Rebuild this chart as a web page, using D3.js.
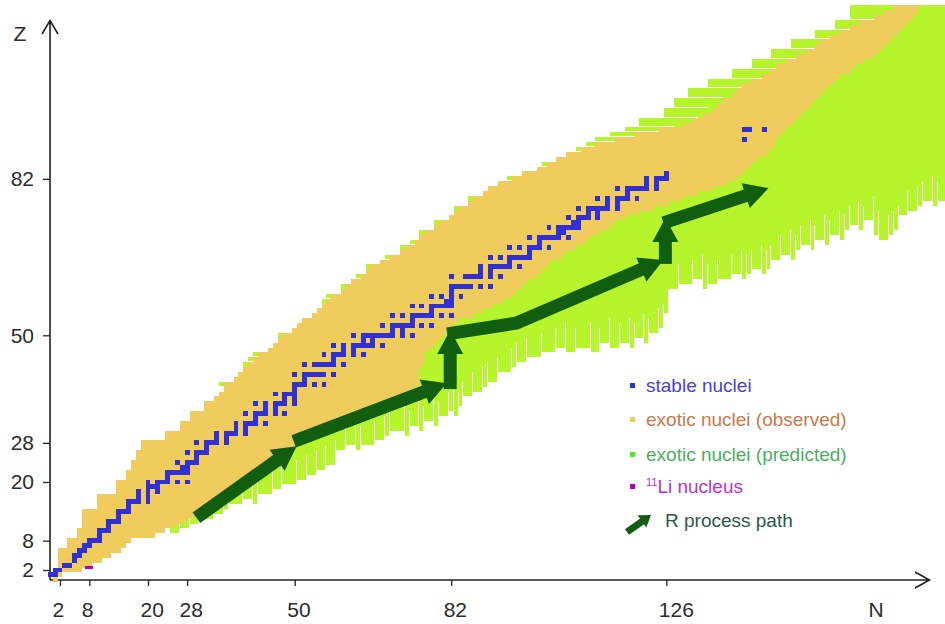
<!DOCTYPE html>
<html>
<head>
<meta charset="utf-8">
<title>Chart of nuclides</title>
<script src="https://cdn.jsdelivr.net/npm/d3@7"></script>
<style>
  html, body { margin: 0; padding: 0; background: #fff; }
  svg { display: block; }
  text { font-family: "Liberation Sans", Arial, Helvetica, sans-serif; }
</style>
</head>
<body>
<svg id="chart" width="945" height="624"></svg>
<script>
// ---------------- data ----------------
const nTicks = [2, 8, 20, 28, 50, 82, 126];
const zTicks = [2, 8, 20, 28, 50, 82];

// Indexed by proton number Z = 0..117
// lightest / heaviest observed neutron number
const observedNMin = [
  1,
  0, 1, 2, 2, 2, 2, 4, 4, 6, 6,
  7, 7, 7, 7, 10, 10, 10, 14, 14, 14,
  16, 16, 17, 17, 18, 18, 19, 19, 24, 24,
  27, 27, 29, 29, 32, 32, 34, 35, 36, 36,
  38, 39, 40, 41, 42, 43, 45, 46, 47, 48,
  50, 51, 52, 54, 55, 56, 57, 58, 60, 61,
  62, 64, 65, 66, 68, 70, 72, 73, 75, 76,
  77, 79, 80, 82, 83, 84, 86, 87, 89, 90,
  92, 95, 97, 100, 102, 104, 106, 109, 112, 116,
  120, 125, 130, 132, 134, 136, 137, 138, 140, 141,
  142, 144, 146, 148, 149, 151, 153, 155, 157, 158,
  160, 162, 164, 166, 169, 171, 173
];
const observedNMax = [
  1,
  2, 6, 8, 10, 12, 14, 15, 16, 21, 23,
  25, 27, 29, 30, 32, 33, 35, 36, 38, 39,
  41, 42, 44, 45, 47, 48, 50, 51, 52, 54,
  55, 57, 59, 61, 64, 67, 70, 72, 74, 75,
  75, 75, 75, 76, 76, 76, 77, 78, 79, 80,
  81, 82, 83, 86, 88, 90, 92, 94, 95, 96,
  97, 99, 100, 101, 102, 104, 105, 107, 109, 110,
  112, 114, 115, 117, 120, 123, 126, 129, 132, 135,
  138, 140, 141, 142, 143, 144, 146, 147, 148, 148,
  149, 150, 151, 152, 153, 154, 155, 156, 157, 158,
  159, 160, 161, 163, 164, 166, 168, 169, 170, 171,
  172, 173, 174, 175, 176, 177, 177
];
// lightest predicted neutron number (proton drip side)
const predictedNMin = [
  1,
  0, 1, 2, 2, 2, 2, 4, 4, 6, 6,
  7, 7, 7, 7, 10, 10, 10, 14, 14, 14,
  16, 16, 17, 17, 18, 18, 19, 19, 24, 24,
  27, 27, 29, 29, 32, 32, 34, 35, 36, 35,
  38, 39, 40, 40, 41, 42, 45, 46, 47, 47,
  50, 51, 52, 54, 55, 56, 56, 57, 60, 60,
  62, 63, 65, 65, 68, 69, 72, 72, 74, 76,
  76, 79, 79, 82, 83, 83, 86, 86, 89, 90,
  92, 94, 97, 100, 101, 104, 106, 108, 110, 112,
  115, 118, 121, 121, 126, 126, 128, 128, 131, 131,
  135, 135, 140, 140, 144, 144, 148, 148, 152, 152,
  157, 157, 161, 161, 164, 164, 164
];

// Indexed by neutron number N = 0..183: lowest predicted Z (neutron drip side)
const predictedZMin = [
  1, 0, 1, 2, 2, 2, 2, 3, 3, 4,
  4, 5, 5, 6, 6, 7, 8, 9, 9, 9,
  9, 9, 10, 10, 11, 10, 10, 11, 11, 12,
  12, 13, 13, 13, 14, 14, 15, 16, 16, 16,
  17, 17, 16, 18, 18, 18, 19, 19, 20, 20,
  20, 21, 21, 22, 22, 23, 23, 24, 24, 27,
  27, 28, 28, 27, 28, 28, 28, 29, 29, 30,
  31, 31, 31, 30, 32, 32, 31, 33, 33, 32,
  34, 34, 35, 34, 36, 38, 38, 39, 39, 40,
  41, 41, 43, 43, 43, 44, 45, 45, 46, 46,
  46, 47, 47, 47, 48, 48, 47, 47, 48, 48,
  48, 47, 47, 49, 49, 48, 48, 49, 49, 48,
  50, 50, 49, 51, 51, 52, 55, 60, 60, 61,
  61, 61, 62, 62, 60, 61, 61, 62, 62, 62,
  63, 63, 62, 63, 64, 64, 63, 64, 66, 66,
  67, 67, 66, 68, 69, 69, 68, 70, 70, 69,
  71, 71, 70, 72, 73, 73, 72, 74, 74, 71,
  70, 70, 71, 72, 75, 75, 76, 76, 77, 78,
  78, 77, 78, 78
];

// stable (and primordial) nuclei: [Z, [N, ...]]
const stableNuclei = [
  [1, [0, 1]], [2, [1, 2]], [3, [3, 4]], [4, [5]], [5, [5, 6]], [6, [6, 7]], [7, [7, 8]],
  [8, [8, 9, 10]], [9, [10]], [10, [10, 11, 12]], [11, [12]], [12, [12, 13, 14]], [13, [14]],
  [14, [14, 15, 16]], [15, [16]], [16, [16, 17, 18, 20]], [17, [18, 20]], [18, [18, 20, 22]],
  [19, [20, 21, 22]], [20, [20, 22, 23, 24, 26, 28]], [21, [24]], [22, [24, 25, 26, 27, 28]],
  [23, [27, 28]], [24, [26, 28, 29, 30]], [25, [30]], [26, [28, 30, 31, 32]], [27, [32]],
  [28, [30, 32, 33, 34, 36]], [29, [34, 36]], [30, [34, 36, 37, 38, 40]], [31, [38, 40]],
  [32, [38, 40, 41, 42, 44]], [33, [42]], [34, [40, 42, 43, 44, 46, 48]], [35, [44, 46]],
  [36, [42, 44, 46, 47, 48, 50]], [37, [48, 50]], [38, [46, 48, 49, 50]], [39, [50]],
  [40, [50, 51, 52, 54, 56]], [41, [52]], [42, [50, 52, 53, 54, 55, 56, 58]],
  [44, [52, 54, 55, 56, 57, 58, 60]], [45, [58]], [46, [56, 58, 59, 60, 62, 64]], [47, [60, 62]],
  [48, [58, 60, 62, 63, 64, 65, 66, 68]], [49, [64, 66]], [50, [62, 64, 65, 66, 67, 68, 69, 70, 72, 74]],
  [51, [70, 72]], [52, [68, 70, 71, 72, 73, 74, 76, 78]], [53, [74]],
  [54, [70, 72, 74, 75, 76, 77, 78, 80, 82]], [55, [78]], [56, [74, 76, 78, 79, 80, 81, 82]],
  [57, [81, 82]], [58, [78, 80, 82, 84]], [59, [82]], [60, [82, 83, 84, 85, 86, 88, 90]],
  [62, [82, 85, 86, 87, 88, 90, 92]], [63, [88, 90]], [64, [88, 90, 91, 92, 93, 94, 96]], [65, [94]],
  [66, [90, 92, 94, 95, 96, 97, 98]], [67, [98]], [68, [94, 96, 98, 99, 100, 102]], [69, [100]],
  [70, [98, 100, 101, 102, 103, 104, 106]], [71, [104, 105]], [72, [102, 104, 105, 106, 107, 108]],
  [73, [107, 108]], [74, [106, 108, 109, 110, 112]], [75, [110, 112]],
  [76, [108, 110, 111, 112, 113, 114, 116]], [77, [114, 116]], [78, [112, 114, 116, 117, 118, 120]],
  [79, [118]], [80, [116, 118, 119, 120, 121, 122, 124]], [81, [122, 124]], [82, [122, 124, 125, 126]],
  [83, [126]], [90, [142]], [92, [142, 143, 146]]
];

const li11 = { n: 8, z: 3 };

// r-process path, in (N, Z); each leg ends in an arrow head
const rProcessPath = [
  [[29.9, 12.7], [50.4, 27.3]],
  [[49.8, 28.3], [81.1, 40.2]],
  [[81.8, 39.0], [81.8, 51.1]],
  [[81.2, 50.3], [95.4, 52.5], [125.4, 65.4]],
  [[125.8, 64.6], [125.8, 74.0]],
  [[125.4, 73.0], [146.9, 80.1]]
];

const legendLabels = ["stable nuclei", "exotic nuclei (observed)", "exotic nuclei (predicted)", "Li nucleus", "R process path"];

// ---------------- drawing ----------------
const colors = {
  stable: "#3030d4",
  observed: "#f0cc5c",
  predicted: "#b6f52c",
  li: "#b400c8",
  path: "#115e11",
  axis: "#222",
  text: "#2c2c2c"
};

const xs = d3.scaleLinear().domain([0, 126]).range([50.2, 666.34]);
const ys = d3.scaleLinear().domain([0, 82]).range([579.8, 178.82]);
const N_MAX = predictedZMin.length - 1;
const Z_MAX = observedNMin.length - 1;

// pixel-snapped cell edges
const xe = n => Math.round(xs(n - 0.5));
const ye = z => Math.round(ys(z + 0.5));

const svg = d3.select("#chart");

// axes (drawn first; the nuclide cells sit on top near the origin)
const axes = svg.append("g");
const gx = axes.append("g")
  .attr("transform", "translate(0,580)")
  .call(d3.axisBottom(xs).tickValues(nTicks).tickSize(6).tickPadding(16).tickSizeOuter(0));
gx.select(".domain").remove();
gx.attr("font-size", 21);
gx.selectAll(".tick line").attr("stroke", colors.axis).attr("stroke-width", 1.3);
gx.selectAll(".tick text").attr("text-anchor", "start").attr("x", -8).attr("fill", colors.text);

const gy = axes.append("g")
  .attr("transform", "translate(50,0)")
  .call(d3.axisLeft(ys).tickValues(zTicks).tickSize(7).tickPadding(9).tickSizeOuter(0));
gy.select(".domain").remove();
gy.attr("font-size", 21);
gy.selectAll(".tick line").attr("stroke", colors.axis).attr("stroke-width", 1.3);
gy.selectAll(".tick text").attr("fill", colors.text);

axes.append("path")
  .attr("d", "M50,580H929M915,572L929.5,580L915,588")
  .attr("fill", "none").attr("stroke", colors.axis).attr("stroke-width", 1.6);
axes.append("path")
  .attr("d", "M50,580V21M42,34L50,20.5L58,34")
  .attr("fill", "none").attr("stroke", colors.axis).attr("stroke-width", 1.6);
axes.append("text").attr("x", 20).attr("y", 41).attr("text-anchor", "middle")
  .attr("font-size", 21).attr("fill", colors.text).text("Z");
axes.append("text").attr("x", 876).attr("y", 617).attr("text-anchor", "middle")
  .attr("font-size", 21).attr("fill", colors.text).text("N");

const cells = svg.append("g").attr("shape-rendering", "crispEdges");

// predicted region: rows of cells, with hairline gaps along the ragged drip-line fringes
const ROW_FRINGE = 7, COL_FRINGE = 5;
const greenRuns = [];
for (let z = 0; z <= Z_MAX; z++) {
  let run = null;
  const flush = () => { if (run) { greenRuns.push(run); run = null; } };
  for (let n = predictedNMin[z]; n <= N_MAX; n++) {
    if (z < predictedZMin[n]) { flush(); continue; }
    const rowStep = z > 0 && predictedNMin[z - 1] !== predictedNMin[z] && n < predictedNMin[z] + ROW_FRINGE;
    const colStep = n < N_MAX && predictedZMin[n + 1] !== predictedZMin[n] && z < predictedZMin[n] + COL_FRINGE;
    const kind = colStep ? "col" : (rowStep ? "row" : "full");
    if (kind === "col") { flush(); greenRuns.push({ n0: n, n1: n, z, kind }); continue; }
    if (run && run.kind === kind) run.n1 = n;
    else { flush(); run = { n0: n, n1: n, z, kind }; }
  }
  flush();
}
cells.append("g").selectAll("rect").data(greenRuns).join("rect")
  .attr("x", d => xe(d.n0))
  .attr("y", d => ye(d.z))
  .attr("width", d => xe(d.n1 + 1) - xe(d.n0) - (d.kind === "col" ? 1 : 0))
  .attr("height", d => ye(d.z - 1) - ye(d.z) - (d.kind === "row" ? 1 : 0))
  .attr("fill", colors.predicted);

// observed region
const observedRows = observedNMin.map((n0, z) => ({ z, n0, n1: observedNMax[z] }));
cells.append("g").selectAll("rect").data(observedRows).join("rect")
  .attr("x", d => xe(d.n0))
  .attr("y", d => ye(d.z))
  .attr("width", d => xe(d.n1 + 1) - xe(d.n0))
  .attr("height", d => ye(d.z - 1) - ye(d.z))
  .attr("fill", colors.observed);

// stable nuclei, merged into horizontal runs
const stableRuns = [];
stableNuclei.forEach(([z, ns]) => {
  let run = null;
  ns.forEach(n => {
    if (run && n === run.n1 + 1) run.n1 = n;
    else { if (run) stableRuns.push(run); run = { z, n0: n, n1: n }; }
  });
  if (run) stableRuns.push(run);
});
cells.append("g").selectAll("rect").data(stableRuns).join("rect")
  .attr("x", d => xe(d.n0))
  .attr("y", d => ye(d.z))
  .attr("width", d => xe(d.n1 + 1) - xe(d.n0))
  .attr("height", d => ye(d.z - 1) - ye(d.z))
  .attr("fill", colors.stable);

// 11Li
cells.append("rect")
  .attr("x", xs(li11.n) - 4).attr("y", ys(li11.z) + 0.5)
  .attr("width", 8).attr("height", 3.5)
  .attr("fill", colors.li);

// r-process arrows
function arrow(g, pts, shaft, headW, headL, color) {
  const [tx, ty] = pts[pts.length - 1];
  const [px, py] = pts[pts.length - 2];
  const len = Math.hypot(tx - px, ty - py);
  const ux = (tx - px) / len, uy = (ty - py) / len;
  const bx = tx - ux * headL, by = ty - uy * headL;
  const body = pts.slice(0, -1).concat([[bx + ux, by + uy]]);
  g.append("path").attr("d", d3.line()(body))
    .attr("fill", "none").attr("stroke", color)
    .attr("stroke-width", shaft).attr("stroke-linejoin", "miter");
  g.append("path")
    .attr("d", `M${bx - uy * headW / 2},${by + ux * headW / 2}L${tx},${ty}L${bx + uy * headW / 2},${by - ux * headW / 2}Z`)
    .attr("fill", color);
}
const arrows = svg.append("g");
rProcessPath.forEach(leg => {
  arrow(arrows, leg.map(([n, z]) => [xs(n), ys(z)]), 13, 26, 24, colors.path);
});

// legend
const legend = svg.append("g").attr("font-size", 19);
const legendRows = [
  { y: 392, swatch: colors.stable, ink: "#4a40dc" },
  { y: 426, swatch: colors.observed, ink: "#c87a4a" },
  { y: 461, swatch: "#48f020", ink: "#48b060" },
  { y: 493, swatch: colors.li, ink: "#c030d0" }
];
legendRows.forEach((r, i) => {
  legend.append("rect").attr("x", 630).attr("y", r.y - 9).attr("width", 5).attr("height", 5)
    .attr("fill", r.swatch);
  const t = legend.append("text").attr("x", 646).attr("y", r.y).attr("fill", r.ink);
  if (i === 3) {
    t.append("tspan").attr("font-size", 11).attr("dy", -7).text("11");
    t.append("tspan").attr("dy", 7).text(legendLabels[i]);
  } else {
    t.text(legendLabels[i]);
  }
});
arrow(legend, [[627, 532], [651, 515]], 7, 15, 11, colors.path);
legend.append("text").attr("x", 665).attr("y", 527).attr("fill", "#2a5a4c").text(legendLabels[4]);
</script>
</body>
</html>
